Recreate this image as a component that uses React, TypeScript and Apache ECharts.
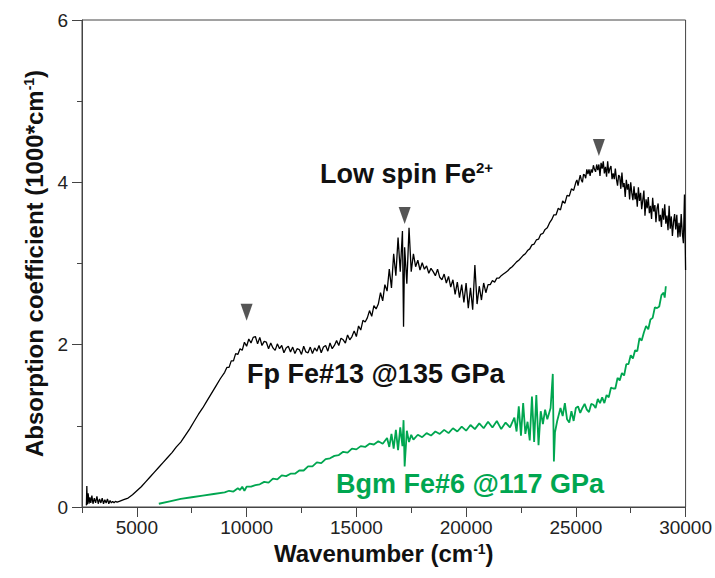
import React, { useEffect, useRef } from "react";
import * as echarts from "echarts";

// Fp Fe#13 @135 GPa (black)
const fpWavenumber = [
  2700, 2720, 2740, 2780, 2820, 2860, 2900, 2950, 3000, 3060, 3120, 3180, 3240, 3300, 3360, 3420, 3480, 3540, 3600, 3660, 3720, 3780, 3840, 3900, 3960, 4020, 4100, 4200,
  4400, 4600, 4800, 5000, 5200, 5400, 5600, 5800, 6000, 6200, 6400, 6600, 6800, 7000, 7200, 7400, 7600, 7800, 8000, 8200, 8400, 8600, 8800, 9000,
  9100, 9200, 9300, 9400, 9500, 9600, 9700, 9800, 9900, 10000,
  10100, 10200, 10300, 10400, 10500, 10600, 10700, 10800, 10900, 11000,
  11100, 11200, 11300, 11400, 11500, 11600, 11700, 11800, 11900, 12000,
  12100, 12200, 12300, 12400, 12500, 12600, 12700, 12800, 12900, 13000,
  13100, 13200, 13300, 13400, 13500, 13600, 13700, 13800, 13900, 14000,
  14100, 14200, 14300, 14400, 14500, 14600, 14700, 14800, 14900, 15000,
  15100, 15200, 15300, 15400, 15500, 15600, 15700, 15800, 15900, 16000,
  16100, 16200, 16300, 16400, 16500, 16600, 16700, 16800, 16900, 17000,
  17100, 17150, 17200, 17300, 17400, 17500, 17600, 17700, 17800, 17900, 18000,
  18100, 18200, 18300, 18400, 18500, 18600, 18700, 18800, 18900, 19000,
  19100, 19200, 19300, 19400, 19500, 19600, 19700, 19800, 19900, 20000,
  20100, 20200, 20300, 20400, 20500, 20600, 20700, 20800, 20900, 21000,
  21100, 21200, 21300, 21400, 21500, 21600, 21700, 21800, 21900, 22000,
  22100, 22200, 22300, 22400, 22500, 22600, 22700, 22800, 22900, 23000,
  23100, 23200, 23300, 23400, 23500, 23600, 23700, 23800, 23900, 24000,
  24100, 24200, 24300, 24400, 24500, 24600, 24700, 24800, 24900, 25000,
  25050, 25100, 25150, 25200, 25250, 25300, 25350, 25400, 25450, 25500,
  25550, 25600, 25650, 25700, 25750, 25800, 25850, 25900, 25950, 26000,
  26050, 26100, 26150, 26200, 26250, 26300, 26350, 26400, 26450, 26500,
  26550, 26600, 26650, 26700, 26750, 26800, 26850, 26900, 26950, 27000,
  27050, 27100, 27150, 27200, 27250, 27300, 27350, 27400, 27450, 27500,
  27550, 27600, 27650, 27700, 27750, 27800, 27850, 27900, 27950, 28000,
  28050, 28100, 28150, 28200, 28250, 28300, 28350, 28400, 28450, 28500,
  28550, 28600, 28650, 28700, 28750, 28800, 28850, 28900, 28950, 29000,
  29050, 29100, 29150, 29200, 29250, 29300, 29350, 29400, 29450, 29500,
  29550, 29600, 29650, 29700, 29750, 29800, 29850, 29900, 29950, 30000,
];
const fpAbsorption = [
  0.02, 0.26, 0.03, 0.17, 0.04, 0.12, 0.05, 0.14, 0.04, 0.11, 0.05, 0.13, 0.04, 0.10, 0.05, 0.11, 0.04, 0.09, 0.05, 0.10, 0.04, 0.08, 0.05, 0.07, 0.05, 0.07, 0.06, 0.07,
  0.09, 0.11, 0.15, 0.20, 0.25, 0.31, 0.37, 0.43, 0.49, 0.55, 0.61, 0.67, 0.74, 0.80, 0.88, 0.96, 1.05, 1.14, 1.22, 1.31, 1.40, 1.49, 1.58, 1.66,
  1.72, 1.72, 1.80, 1.80, 1.89, 1.88, 1.95, 1.93, 2.03, 1.98,
  2.07, 2.02, 2.09, 2.10, 2.01, 2.09, 1.99, 2.04, 2.03, 1.95,
  2.02, 1.96, 1.93, 2.01, 1.95, 1.99, 1.90, 1.96, 1.98, 1.91,
  1.97, 1.89, 1.95, 1.94, 1.88, 1.98, 1.91, 1.90, 1.97, 1.89,
  1.96, 1.92, 1.99, 1.90, 1.97, 1.99, 1.92, 2.02, 1.95, 1.99,
  2.05, 1.99, 2.08, 2.06, 2.02, 2.12, 2.06, 2.10, 2.17, 2.10,
  2.23, 2.18, 2.30, 2.28, 2.33, 2.42, 2.35, 2.48, 2.44, 2.50,
  2.64, 2.54, 2.74, 2.66, 2.93, 2.70, 3.12, 2.85, 3.32, 2.90,
  3.40, 2.22, 3.20, 2.75, 3.44, 2.90, 3.12, 2.96, 3.04, 2.92, 3.01,
  2.93, 2.97, 2.88, 2.94, 2.90, 2.85, 2.93, 2.83, 2.80, 2.87,
  2.76, 2.84, 2.71, 2.80, 2.62, 2.77, 2.58, 2.74, 2.52, 2.76,
  2.45, 2.70, 2.43, 2.98, 2.50, 2.72, 2.55, 2.76, 2.64, 2.74,
  2.74, 2.79, 2.77, 2.82, 2.82, 2.85, 2.87, 2.89, 2.91, 2.94,
  2.96, 2.99, 3.02, 3.04, 3.07, 3.10, 3.12, 3.16, 3.18, 3.23,
  3.24, 3.29, 3.30, 3.36, 3.37, 3.42, 3.44, 3.50, 3.54, 3.60,
  3.60, 3.68, 3.66, 3.77, 3.74, 3.84, 3.83, 3.92, 3.90, 4.00,
  4.03, 3.96, 4.03, 4.09, 4.03, 4.00, 4.10, 4.09, 4.05, 4.16,
  4.10, 4.16, 4.08, 4.16, 4.12, 4.21, 4.16, 4.13, 4.22, 4.15,
  4.22, 4.08, 4.24, 4.17, 4.26, 4.11, 4.19, 4.07, 4.26, 4.11,
  4.17, 4.20, 4.04, 4.11, 4.04, 4.17, 4.04, 3.96, 4.09, 4.07,
  3.92, 4.12, 3.94, 3.99, 3.82, 4.03, 3.91, 3.98, 3.79, 4.00,
  3.87, 3.78, 3.95, 3.79, 3.87, 3.70, 3.94, 3.77, 3.87, 3.67,
  3.78, 3.90, 3.59, 3.79, 3.68, 3.82, 3.62, 3.71, 3.55, 3.81,
  3.64, 3.72, 3.51, 3.68, 3.74, 3.52, 3.60, 3.45, 3.68, 3.54,
  3.73, 3.49, 3.59, 3.41, 3.71, 3.43, 3.58, 3.34, 3.51, 3.61,
  3.42, 3.60, 3.32, 3.50, 3.33, 3.61, 3.38, 3.25, 3.85, 2.92,
];

// Bgm Fe#6 @117 GPa (green)
const bgmWavenumber = [
  6000, 6500, 7000, 7500, 8000, 8500, 9000, 9200, 9400, 9600, 9700, 9800, 9900, 10000,
  10200, 10400, 10600, 10800, 11000, 11200, 11400, 11600, 11800, 12000,
  12200, 12400, 12600, 12800, 13000, 13200, 13400, 13600, 13800, 14000,
  14200, 14400, 14600, 14800, 15000, 15200, 15400, 15600, 15800, 16000,
  16200, 16400, 16500, 16600, 16700, 16800, 16900, 17000, 17100, 17150, 17200, 17300, 17400, 17500, 17600, 17800, 18000,
  18200, 18400, 18600, 18800, 19000, 19200, 19400, 19600, 19800, 20000,
  20200, 20400, 20600, 20800, 21000, 21200, 21400, 21600, 21800, 22000,
  22200, 22300, 22400, 22500, 22600, 22700, 22800, 22900, 23000,
  23100, 23200, 23300, 23400, 23500, 23600, 23700, 23850, 23950, 24000, 24050, 24150,
  24300, 24400, 24500, 24600, 24700, 24800, 24900, 25000,
  25100, 25200, 25300, 25400, 25500, 25600, 25700, 25800, 25900, 26000,
  26100, 26200, 26300, 26400, 26500, 26600, 26700, 26800, 26900, 27000,
  27100, 27200, 27300, 27400, 27500, 27600, 27700, 27800, 27900, 28000,
  28100, 28200, 28300, 28400, 28500, 28600, 28700, 28800, 28900, 29000, 29050, 29100,
];
const bgmAbsorption = [
  0.04, 0.07, 0.10, 0.12, 0.14, 0.16, 0.18, 0.20, 0.19, 0.23, 0.21, 0.25, 0.20, 0.25,
  0.25, 0.27, 0.28, 0.31, 0.30, 0.35, 0.34, 0.39, 0.38, 0.41,
  0.41, 0.45, 0.45, 0.50, 0.50, 0.55, 0.54, 0.59, 0.60, 0.63,
  0.64, 0.68, 0.67, 0.72, 0.71, 0.75, 0.74, 0.78, 0.77, 0.81,
  0.78, 0.85, 0.74, 0.90, 0.72, 0.95, 0.70, 0.98, 0.75, 1.07, 0.50, 0.94, 0.80, 0.89, 0.83, 0.89, 0.86,
  0.91, 0.88, 0.93, 0.90, 0.95, 0.91, 0.97, 0.93, 0.99, 0.94,
  1.01, 0.96, 1.03, 0.97, 1.05, 0.98, 1.06, 0.96, 1.04, 0.98,
  1.10, 0.93, 1.24, 0.88, 1.28, 0.90, 1.05, 0.82, 1.36,
  0.80, 1.38, 0.76, 1.18, 1.02, 1.20, 1.08, 1.22, 1.64, 0.56, 0.92, 1.06,
  1.22, 1.12, 1.28, 1.08, 1.04, 1.18, 1.06, 1.22,
  1.24, 1.16, 1.22, 1.27, 1.20, 1.17, 1.27, 1.26, 1.22, 1.33,
  1.28, 1.35, 1.28, 1.38, 1.35, 1.47, 1.46, 1.46, 1.59, 1.56,
  1.65, 1.62, 1.76, 1.76, 1.87, 1.83, 1.93, 1.92, 2.08, 2.05,
  2.15, 2.23, 2.19, 2.31, 2.33, 2.46, 2.45, 2.47, 2.61, 2.64, 2.58, 2.72,
];

// Peak markers
const peakWavenumber = [10000, 17200, 26050];
const peakMarkerY = [2.4, 3.59, 4.43];

const xMajorTicks = [5000, 10000, 15000, 20000, 25000, 30000];
const xMinorTicks = [2500, 7500, 12500, 17500, 22500, 27500];

const FONT = "'Liberation Sans', Arial, sans-serif";
const GREEN = "#00a650";
const AXIS = "#444";

export default function App() {
  const ref = useRef<HTMLDivElement>(null);
  useEffect(() => {
    if (!ref.current) return;
    const chart = echarts.init(ref.current, null, { renderer: "svg" });
    const fp = fpWavenumber.map((x, i) => [x, fpAbsorption[i]]);
    const bgm = bgmWavenumber.map((x, i) => [x, bgmAbsorption[i]]);
    const peaks = peakWavenumber.map((x, i) => [x, peakMarkerY[i]]);
    const supStyle = { fontSize: 14, fontWeight: "bold", fontFamily: FONT, verticalAlign: "top", lineHeight: 12, color: "#111" };
    chart.setOption({
      animation: false,
      backgroundColor: "#fff",
      grid: { left: 82, right: 29, top: 20, bottom: 71, show: true, borderColor: AXIS, borderWidth: 1, backgroundColor: "transparent" },
      xAxis: [
        {
          type: "value",
          min: 2500,
          max: 30000,
          interval: 2500,
          name: "Wavenumber (cm{sup|-1})",
          nameLocation: "middle",
          nameGap: 31,
          nameTextStyle: {
            fontFamily: FONT, fontWeight: "bold", fontSize: 24, color: "#111",
            rich: { sup: supStyle },
          },
          axisLine: { show: true, lineStyle: { color: AXIS, width: 1 } },
          axisTick: { show: true, inside: false, length: 10, customValues: xMajorTicks, lineStyle: { color: AXIS } },
          axisLabel: { show: true, customValues: xMajorTicks, formatter: (v: number) => String(v), fontFamily: FONT, fontSize: 19, color: "#222", margin: 11 },
          splitLine: { show: false },
        },
        {
          type: "value",
          min: 2500,
          max: 30000,
          interval: 2500,
          position: "bottom",
          axisLine: { show: false },
          axisTick: { show: true, inside: false, length: 6, customValues: xMinorTicks, lineStyle: { color: AXIS } },
          axisLabel: { show: false },
          splitLine: { show: false },
        },
      ],
      yAxis: {
        type: "value",
        min: 0,
        max: 6,
        interval: 2,
        name: "Absorption coefficient (1000*cm{sup|-1})",
        nameLocation: "middle",
        nameGap: 36,
        nameTextStyle: {
          fontFamily: FONT, fontWeight: "bold", fontSize: 24, color: "#111",
          rich: { sup: supStyle },
        },
        axisLine: { show: true, lineStyle: { color: AXIS, width: 1 } },
        axisTick: { show: true, inside: false, length: 10, lineStyle: { color: AXIS } },
        minorTick: { show: true, splitNumber: 2, length: 5, lineStyle: { color: AXIS } },
        axisLabel: { fontFamily: FONT, fontSize: 19, color: "#222", margin: 14 },
        splitLine: { show: false },
      },
      series: [
        {
          type: "line",
          name: "Fp Fe#13 @135 GPa",
          data: fp,
          showSymbol: false,
          lineStyle: { color: "#000", width: 1.3 },
          z: 3,
        },
        {
          type: "line",
          name: "Bgm Fe#6 @117 GPa",
          data: bgm,
          showSymbol: false,
          lineStyle: { color: GREEN, width: 1.8 },
          z: 2,
        },
        {
          type: "scatter",
          data: peaks,
          symbol: "triangle",
          symbolRotate: 180,
          symbolSize: [12, 17],
          itemStyle: { color: "#2b2b2b" },
          z: 4,
        },
      ],
      graphic: [
        {
          type: "text",
          left: 320,
          top: 160,
          style: {
            text: "Low spin Fe{sup|2+}",
            fontFamily: FONT,
            fontWeight: "bold",
            fontSize: 27,
            fill: "#111",
            rich: { sup: { fontSize: 15, fontWeight: "bold", fontFamily: FONT, verticalAlign: "top", lineHeight: 14, fill: "#111" } },
          },
        },
        {
          type: "text",
          left: 247,
          top: 360,
          style: { text: "Fp Fe#13 @135 GPa", fontFamily: FONT, fontWeight: "bold", fontSize: 27, fill: "#111" },
        },
        {
          type: "text",
          left: 336,
          top: 470,
          style: { text: "Bgm Fe#6 @117 GPa", fontFamily: FONT, fontWeight: "bold", fontSize: 27, fill: GREEN },
        },
      ],
    });
    return () => chart.dispose();
  }, []);
  return <div ref={ref} style={{ width: 715, height: 578, position: "absolute", left: 0, top: 0 }} />;
}
